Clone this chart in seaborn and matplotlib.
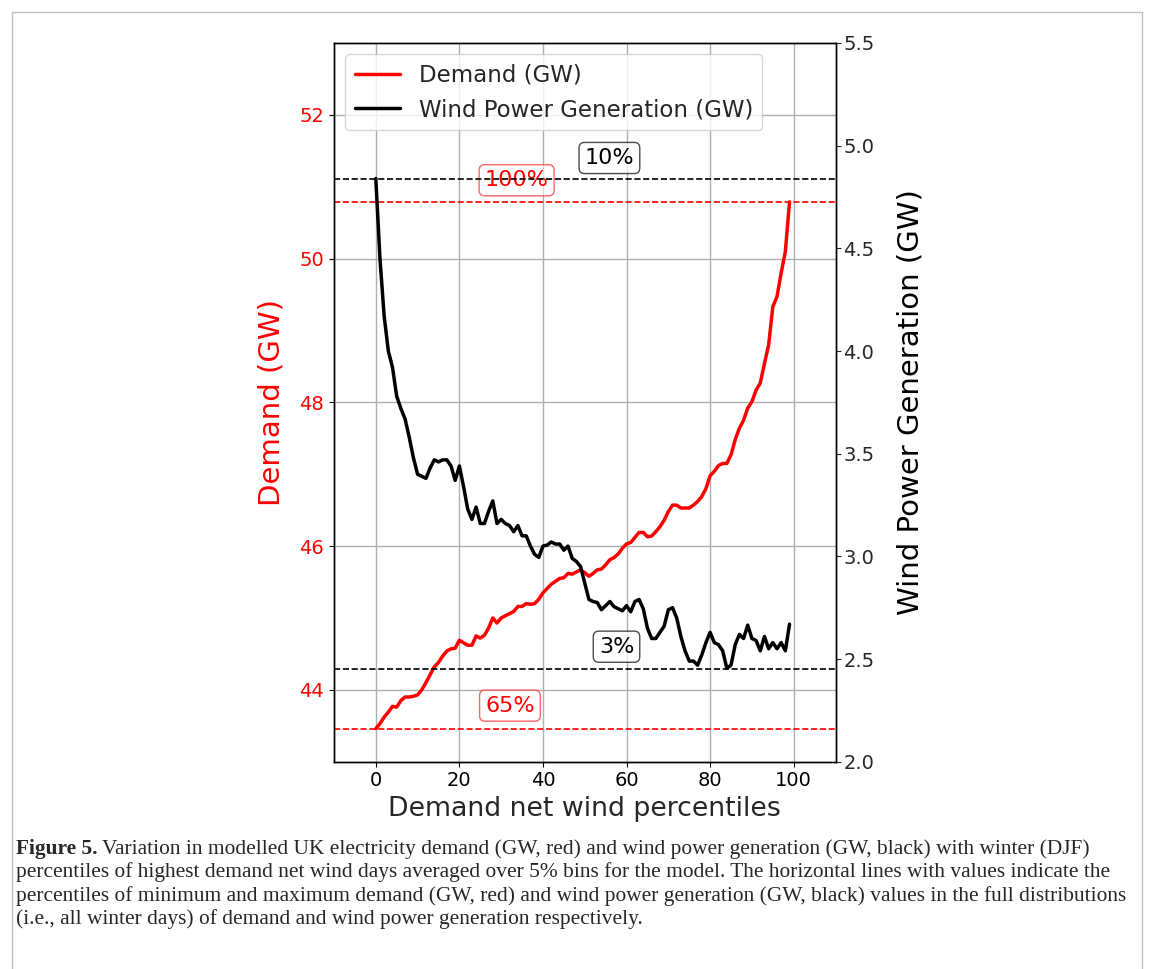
import numpy as np
import pandas as pd
import matplotlib
matplotlib.use("Agg")
import matplotlib.pyplot as plt
from matplotlib.lines import Line2D
import seaborn as sns

# Percentile bins of demand net wind
percentiles = list(range(100))

# Mean demand (GW) per percentile bin
demand_gw = [
    43.46, 43.53, 43.62, 43.69, 43.77, 43.76, 43.85, 43.90, 43.90, 43.91,
    43.93, 44.00, 44.10, 44.21, 44.32, 44.38, 44.47, 44.54, 44.57, 44.58,
    44.69, 44.655, 44.62, 44.62, 44.75, 44.72, 44.76, 44.86, 45.00, 44.93,
    45.00, 45.03, 45.06, 45.09, 45.16, 45.16, 45.20, 45.19, 45.20, 45.26,
    45.35, 45.41, 45.47, 45.51, 45.55, 45.56, 45.62, 45.61, 45.64, 45.67,
    45.63, 45.58, 45.62, 45.67, 45.68, 45.74, 45.81, 45.84, 45.89, 45.97,
    46.03, 46.05, 46.12, 46.19, 46.19, 46.13, 46.14, 46.20, 46.27, 46.36,
    46.48, 46.57, 46.57, 46.53, 46.53, 46.53, 46.57, 46.62, 46.69, 46.80,
    46.98, 47.04, 47.12, 47.15, 47.15, 47.27, 47.48, 47.64, 47.75, 47.92,
    48.01, 48.17, 48.27, 48.54, 48.80, 49.33, 49.47, 49.80, 50.10, 50.79,
]

# Mean wind power generation (GW) per percentile bin
wind_gw = [
    4.84, 4.45, 4.17, 4.00, 3.92, 3.78, 3.72, 3.67, 3.58, 3.48,
    3.40, 3.39, 3.38, 3.43, 3.47, 3.46, 3.47, 3.47, 3.44, 3.37,
    3.44, 3.34, 3.23, 3.18, 3.24, 3.16, 3.16, 3.22, 3.27, 3.16,
    3.18, 3.16, 3.15, 3.12, 3.15, 3.10, 3.10, 3.05, 3.01, 2.995,
    3.05, 3.055, 3.07, 3.06, 3.06, 3.03, 3.05, 2.99, 2.975, 2.95,
    2.87, 2.79, 2.78, 2.775, 2.74, 2.76, 2.78, 2.755, 2.745, 2.735,
    2.76, 2.73, 2.78, 2.79, 2.745, 2.65, 2.60, 2.60, 2.63, 2.66,
    2.74, 2.75, 2.70, 2.61, 2.54, 2.49, 2.49, 2.47, 2.52, 2.58,
    2.63, 2.58, 2.57, 2.54, 2.455, 2.47, 2.57, 2.62, 2.60, 2.665,
    2.60, 2.59, 2.54, 2.61, 2.55, 2.58, 2.55, 2.58, 2.54, 2.67,
]

# Reference levels from the full winter distributions
demand_levels = [50.79, 43.46]
demand_level_labels = ["100%", "65%"]
demand_label_pos = [(33.7, 51.09), (32.1, 43.78)]
wind_levels = [4.836, 2.453]
wind_level_labels = ["10%", "3%"]
wind_label_pos = [(55.9, 4.94), (57.6, 2.56)]

caption_lines = [
    "Variation in modelled UK electricity demand (GW, red) and wind power generation (GW, black) with winter (DJF)",
    "percentiles of highest demand net wind days averaged over 5% bins for the model. The horizontal lines with values indicate the",
    "percentiles of minimum and maximum demand (GW, red) and wind power generation (GW, black) values in the full distributions",
    "(i.e., all winter days) of demand and wind power generation respectively.",
]

df = pd.DataFrame({"pct": percentiles, "demand": demand_gw, "wind": wind_gw})

sns.set_style("ticks")
plt.rcParams["font.family"] = ["DejaVu Sans"]

W, H = 1153, 969
fig = plt.figure(figsize=(W / 100, H / 100), dpi=100)
left, right, top, bottom = 334, 835.5, 43, 761.7
ax = fig.add_axes([left / W, 1 - bottom / H, (right - left) / W, (bottom - top) / H])
ax2 = ax.twinx()

sns.lineplot(data=df, x="pct", y="demand", ax=ax, color="red", linewidth=2.5)
sns.lineplot(data=df, x="pct", y="wind", ax=ax2, color="black", linewidth=2.5)

for lvl in demand_levels:
    ax.axhline(lvl, color="red", linestyle="--", linewidth=1.2)
for lvl in wind_levels:
    ax2.axhline(lvl, color="black", linestyle="--", linewidth=1.2)

for txt, (x, y) in zip(demand_level_labels, demand_label_pos):
    ax.text(x, y, txt, color="red", fontsize=16, ha="center", va="center",
            bbox=dict(boxstyle="round,pad=0.25", facecolor="white", edgecolor="red", alpha=0.6))
for txt, (x, y) in zip(wind_level_labels, wind_label_pos):
    ax2.text(x, y, txt, color="black", fontsize=16, ha="center", va="center",
             bbox=dict(boxstyle="round,pad=0.25", facecolor="white", edgecolor="black", alpha=0.7))

ax.set_xlim(-10, 110)
ax.set_ylim(43, 53)
ax2.set_ylim(2.0, 5.5)
ax.set_xticks([0, 20, 40, 60, 80, 100])
ax.set_yticks([44, 46, 48, 50, 52])
ax2.set_yticks(np.arange(2.0, 5.51, 0.5))
ax2.set_yticklabels([f"{v:.1f}" for v in np.arange(2.0, 5.51, 0.5)])

ax.grid(True, color="#b0b0b0", linewidth=1.0)
ax2.grid(False)
ax.tick_params(axis="x", labelsize=14, colors="black")
ax.tick_params(axis="y", labelsize=14, colors="red")
ax.tick_params(axis="y", color="black")
ax2.tick_params(axis="y", labelsize=14, pad=2)
for a in (ax, ax2):
    for s in a.spines.values():
        s.set_visible(True)
        s.set_color("black")
        s.set_linewidth(1.0)

ax.set_xlabel("Demand net wind percentiles", fontsize=19.3)
ax.set_ylabel("Demand (GW)", fontsize=21, color="red", labelpad=10)
ax2.set_ylabel("Wind Power Generation (GW)", fontsize=21, color="black", labelpad=16)

handles = [Line2D([0], [0], color="red", linewidth=2.5),
           Line2D([0], [0], color="black", linewidth=2.5)]
ax2.legend(handles, ["Demand (GW)", "Wind Power Generation (GW)"], loc="upper left",
           fontsize=16.5, framealpha=0.8)

# Figure caption
cap_font = "Liberation Serif"
cap_size = 15.4
cap_x = 16 / W
line_y = [849, 872, 896, 919]
fig.canvas.draw()
renderer = fig.canvas.get_renderer()
bold = fig.text(cap_x, 1 - line_y[0] / H, "Figure 5.", fontsize=cap_size, family=cap_font,
                weight="bold", va="center", ha="left")
bb = bold.get_window_extent(renderer)
fig.text((bb.x1 + 4) / W, 1 - line_y[0] / H, caption_lines[0], fontsize=cap_size,
         family=cap_font, va="center", ha="left")
for yy, line in zip(line_y[1:], caption_lines[1:]):
    fig.text(cap_x, 1 - yy / H, line, fontsize=cap_size, family=cap_font, va="center", ha="left")

# Page frame
frame_col = "#c0c0c0"
fig.add_artist(Line2D([12 / W, 1142 / W], [1 - 12 / H, 1 - 12 / H], color=frame_col, lw=1))
fig.add_artist(Line2D([12 / W, 12 / W], [1 - 12 / H, 0], color=frame_col, lw=1))
fig.add_artist(Line2D([1142 / W, 1142 / W], [1 - 12 / H, 0], color=frame_col, lw=1))

fig.savefig("out.png", dpi=100)
